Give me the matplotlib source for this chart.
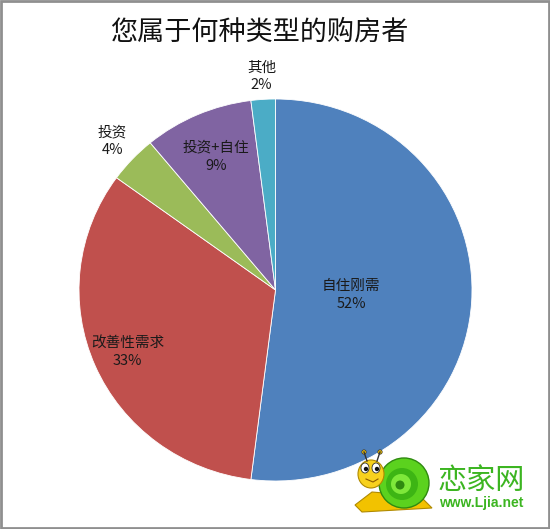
import matplotlib
matplotlib.use("Agg")
import numpy as np
import matplotlib.pyplot as plt
from matplotlib.patches import Circle, Ellipse, Rectangle, Polygon

plt.rcParams['font.family'] = ['Noto Sans CJK SC', 'DejaVu Sans']

# ---- data ----
title = "您属于何种类型的购房者"
categories = ["自住刚需", "改善性需求", "投资", "投资+自住", "其他"]
shares = [52, 33, 4, 9, 2]
colors = ["#4F81BD", "#C0504D", "#9BBB59", "#8064A2", "#4BACC6"]
# radial placement of each label (fraction of the radius)
label_radius = [0.385, 0.82, 1.14, 0.76, 1.12]

W, H = 550, 529
fig = plt.figure(figsize=(W / 100, H / 100), dpi=100)
fig.patch.set_facecolor("white")

# pie axes (slightly wider than tall, as drawn)
ax = fig.add_axes([79 / W, 48 / H, 393 / W, 382 / H])
wedges, _ = ax.pie(shares, colors=colors, startangle=90, counterclock=False,
                   wedgeprops=dict(edgecolor="#ffffff", linewidth=0.6))
ax.set_aspect("auto")
ax.set_xlim(-1, 1)
ax.set_ylim(-1, 1)
ax.axis("off")

total = float(sum(shares))
cum = 0.0
for name, val, r in zip(categories, shares, label_radius):
    mid = 90 - 360 * (cum + val / 2) / total
    cum += val
    a = np.deg2rad(mid)
    ax.text(r * np.cos(a), r * np.sin(a), f"{name}\n{val}%",
            ha="center", va="center", fontsize=10.5, color="#1a1a1a",
            linespacing=1.35)

# overlay in pixel coordinates for title, frame and logo
ov = fig.add_axes([0, 0, 1, 1], zorder=5)
ov.set_xlim(0, W)
ov.set_ylim(H, 0)
ov.axis("off")
ov.patch.set_alpha(0)

ov.text(259, 32, title, ha="center", va="center", fontsize=19.5, color="#111111")

# outer frame
ov.add_patch(Rectangle((1, 1), W - 2, H - 2, fill=False, edgecolor="#8f8f8f", linewidth=2))

# logo: snail
ov.add_patch(Polygon([[355, 505], [372, 492], [420, 496], [432, 508], [362, 512]],
                     closed=True, facecolor="#F2C200", edgecolor="#b08a00", linewidth=0.8))
ov.add_patch(Circle((404, 483), 25, facecolor="#5BD21E", edgecolor="#2f8a10", linewidth=1))
ov.add_patch(Circle((402, 484), 16, facecolor="#3DB514", edgecolor="none"))
ov.add_patch(Circle((401, 484), 10, facecolor="#7EE83A", edgecolor="none"))
ov.add_patch(Circle((400, 485), 4.5, facecolor="#2f8a10", edgecolor="none"))
ov.add_patch(Ellipse((371, 474), 26, 28, facecolor="#F7D11E", edgecolor="#b08a00", linewidth=0.8))
for ex in (365, 376):
    ov.add_patch(Ellipse((ex, 468), 8, 10, facecolor="white", edgecolor="#333333", linewidth=0.6))
    ov.add_patch(Circle((ex + 1, 469), 2.2, facecolor="#111111"))
ov.plot([367, 364], [461, 452], color="#333333", lw=1)
ov.plot([377, 380], [461, 452], color="#333333", lw=1)
ov.add_patch(Circle((364, 452), 2.2, facecolor="#F2C200", edgecolor="#333333", linewidth=0.5))
ov.add_patch(Circle((380, 452), 2.2, facecolor="#F2C200", edgecolor="#333333", linewidth=0.5))
ov.plot([366, 373, 378], [479, 482, 479], color="#8a5a00", lw=0.8)

ov.text(481, 481, "恋家网", ha="center", va="center", fontsize=21, color="#3CB521")
ov.text(481, 503, "www.Ljia.net", ha="center", va="center", fontsize=10,
        fontweight="bold", color="#3CB521", family=["Liberation Sans", "DejaVu Sans"])

fig.savefig("out.png", dpi=100, facecolor="white")
